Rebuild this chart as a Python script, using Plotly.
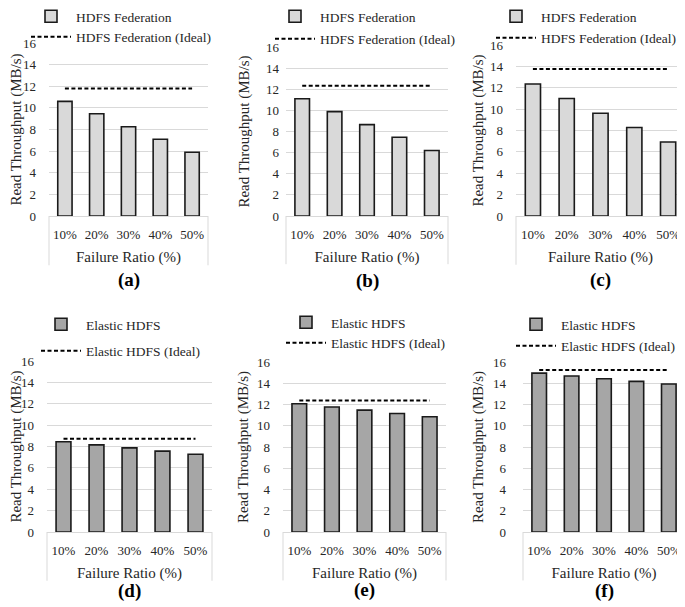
import plotly.graph_objects as go

categories = ["10%", "20%", "30%", "40%", "50%"]

fed_a = [10.6, 9.45, 8.25, 7.1, 5.9]
fed_a_ideal = 11.8
fed_b = [11.1, 9.88, 8.65, 7.45, 6.2]
fed_b_ideal = 12.33
fed_c = [12.35, 11.0, 9.62, 8.28, 6.92]
fed_c_ideal = 13.75
ela_d = [8.45, 8.15, 7.87, 7.57, 7.27]
ela_d_ideal = 8.72
ela_e = [12.07, 11.77, 11.47, 11.15, 10.85]
ela_e_ideal = 12.38
ela_f = [14.95, 14.68, 14.43, 14.18, 13.93]
ela_f_ideal = 15.25

yticks = [0, 2, 4, 6, 8, 10, 12, 14, 16]
panel_labels = ["(a)", "(b)", "(c)", "(d)", "(e)", "(f)"]

# page body has an 8px margin: the figure is drawn at (8, 8) in the window
OFF = 8
W, H = 685 - OFF, 607 - OFF
FONT = "Liberation Serif"

panels = [
    # values, ideal, name, color, x0,x1, ybottom, ytop, legend x, legend top, legend gap,
    # label y, ytick standoff, ytitle standoff  (window px)
    (fed_a, fed_a_ideal, "HDFS Federation", "#d9d9d9", 49, 208, 216, 43, 26, 1, 0, 280, 12, 4),
    (fed_b, fed_b_ideal, "HDFS Federation", "#d9d9d9", 286, 448, 216, 47, 270, 1, 2, 281, 6, 12),
    (fed_c, fed_c_ideal, "HDFS Federation", "#d9d9d9", 516, 685, 216, 45, 491, 1, 1, 280, 12, 2),
    (ela_d, ela_d_ideal, "Elastic HDFS", "#a6a6a6", 47, 212, 532, 361, 36, 309, 6, 591, 12, 6),
    (ela_e, ela_e_ideal, "Elastic HDFS", "#a6a6a6", 283, 446, 532, 362, 281, 307, 0, 590, 12, 4),
    (ela_f, ela_f_ideal, "Elastic HDFS", "#a6a6a6", 523, 685, 532, 362, 511, 309, 1, 591, 16, 5),
]

fig = go.Figure()
layout = dict(
    width=W, height=H,
    margin=dict(l=0, r=0, t=0, b=0, autoexpand=False),
    paper_bgcolor="white", plot_bgcolor="white",
    font=dict(family=FONT, size=13, color="#262626"),
    showlegend=True,
    bargap=0.55,
)
shapes = []
annotations = []


def px_x(v):
    return (v - OFF) / W


def px_y(v):
    return 1 - (v - OFF) / H


for i, (vals, ideal, name, color, x0, x1, yb, yt, lx, ly, gap, laby, tso, ttso) in enumerate(panels):
    n = i + 1
    xa = "x" if n == 1 else f"x{n}"
    ya = "y" if n == 1 else f"y{n}"
    lg = "legend" if n == 1 else f"legend{n}"
    fig.add_trace(go.Bar(
        x=categories, y=vals, name=name,
        marker=dict(color=color, line=dict(color="#1a1a1a", width=1.6)),
        xaxis=xa, yaxis=ya, legend=lg, legendgroup=f"g{n}a",
        hoverinfo="y",
    ))
    fig.add_trace(go.Scatter(
        x=categories, y=[ideal] * len(categories), name=name + " (Ideal)",
        mode="lines", line=dict(color="black", width=2, dash="4px,2.5px"),
        xaxis=xa, yaxis=ya, legend=lg, legendgroup=f"g{n}b",
    ))
    xkey = "xaxis" if n == 1 else f"xaxis{n}"
    ykey = "yaxis" if n == 1 else f"yaxis{n}"
    layout[xkey] = dict(
        domain=[px_x(x0), min(1, px_x(x1))], anchor=ya, automargin=False,
        type="category", showgrid=False, showline=True, linecolor="#d9d9d9", linewidth=1,
        ticks="", ticklabelstandoff=6,
        tickfont=dict(family=FONT, size=13, color="#262626"),
        title=dict(text="Failure Ratio (%)", font=dict(family=FONT, size=15, color="#262626"), standoff=10),
        fixedrange=True,
    )
    layout[ykey] = dict(
        domain=[px_y(yb), px_y(yt)], anchor=xa, automargin=False,
        range=[0, 16], tickvals=yticks, showgrid=True, gridcolor="#d9d9d9", gridwidth=1,
        zeroline=False, showline=False, ticks="", ticklabelstandoff=tso,
        tickfont=dict(family=FONT, size=13, color="#262626"),
        title=dict(text="Read Throughput (MB/s)", font=dict(family=FONT, size=15, color="#262626"), standoff=ttso),
        fixedrange=True,
    )
    layout[lg] = dict(
        x=px_x(lx), y=px_y(ly), xanchor="left", yanchor="top",
        bgcolor="rgba(0,0,0,0)", font=dict(family=FONT, size=13.5, color="#262626"),
        tracegroupgap=gap, itemwidth=40, traceorder="grouped",
    )
    # Excel-style category-axis box sides
    for xd in (0, 1):
        shapes.append(dict(
            type="line", xref=f"{xa} domain", yref=f"{ya} domain",
            x0=xd, x1=xd, y0=0, y1=-0.285, line=dict(color="#d9d9d9", width=1),
        ))
    annotations.append(dict(
        text=f"<b>{panel_labels[i]}</b>", xref=f"{xa} domain", yref="paper",
        x=0.5, y=px_y(laby), xanchor="center", yanchor="middle", showarrow=False,
        font=dict(family=FONT, size=19, color="black"),
    ))

layout["shapes"] = shapes
layout["annotations"] = annotations
fig.update_layout(**layout)
fig.write_html("out.html")
